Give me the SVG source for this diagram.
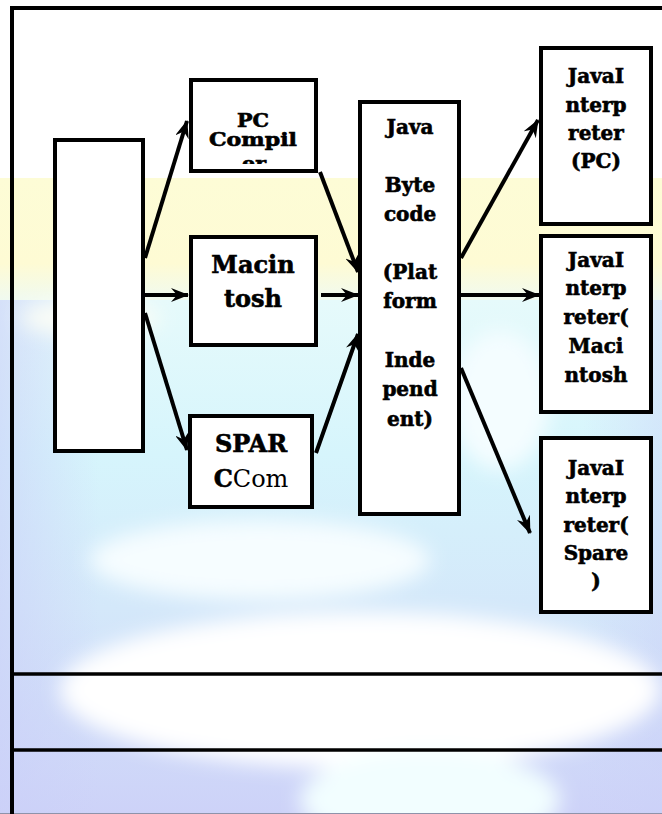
<svg xmlns="http://www.w3.org/2000/svg" width="662" height="814" viewBox="0 0 662 814">
  <style>
    .box { fill: #ffffff; stroke: #000000; stroke-width: 4; }
    .t { font-family: "DejaVu Serif", "Liberation Serif", serif; font-weight: bold; text-anchor: middle; fill: #000000; stroke: #000000; stroke-width: 0.6; }
    .s20 { font-size: 20px; }
    .s24 { font-size: 24px; }
    .s18 { font-size: 18px; }
    .reg { font-weight: normal; stroke: none; }
    .conn line { stroke: #000000; stroke-width: 4; fill: none; marker-end: url(#arr); }
    .frame { stroke: #000000; stroke-width: 4; fill: none; }
  </style>
  <defs>
    <marker id="arr" markerUnits="userSpaceOnUse" viewBox="0 0 18 14" markerWidth="18" markerHeight="14" refX="17" refY="7" orient="auto">
      <path d="M0,0 L18,7 L0,14 L6,7 z" fill="#000000"/>
    </marker>
    <linearGradient id="yel" x1="0" y1="0" x2="0" y2="1">
      <stop offset="0" stop-color="#fdfcd6"/>
      <stop offset="0.7" stop-color="#fefbd4"/>
      <stop offset="1" stop-color="#f0faf0"/>
    </linearGradient>
    <linearGradient id="low" x1="0" y1="0" x2="0" y2="1">
      <stop offset="0" stop-color="#e6fafb"/>
      <stop offset="0.3" stop-color="#d6f5fc"/>
      <stop offset="0.6" stop-color="#d4e8fa"/>
      <stop offset="1" stop-color="#cdd2f8"/>
    </linearGradient>
    <linearGradient id="side" x1="0" y1="0" x2="1" y2="0">
      <stop offset="0" stop-color="#cbd0f8" stop-opacity="0.6"/>
      <stop offset="0.15" stop-color="#cbd0f8" stop-opacity="0"/>
      <stop offset="0.88" stop-color="#cbd0f8" stop-opacity="0"/>
      <stop offset="1" stop-color="#cbd0f8" stop-opacity="0.4"/>
    </linearGradient>
    <filter id="blur" x="-50%" y="-50%" width="200%" height="200%">
      <feGaussianBlur stdDeviation="10"/>
    </filter>
    <clipPath id="pcclip">
      <rect x="193" y="82" width="121" height="82"/>
    </clipPath>
  </defs>

  <!-- background -->
  <g id="background">
    <rect x="0" y="0" width="662" height="814" fill="#ffffff"/>
    <rect x="0" y="178" width="662" height="122" fill="url(#yel)"/>
    <rect x="0" y="300" width="662" height="514" fill="url(#low)"/>
    <rect x="0" y="300" width="662" height="514" fill="url(#side)"/>
    <g filter="url(#blur)" fill="#ffffff">
      <ellipse cx="360" cy="690" rx="300" ry="78"/>
      <ellipse cx="430" cy="800" rx="130" ry="50" fill="#f2feff"/>
      <ellipse cx="260" cy="560" rx="170" ry="40" fill="#f6fdff"/>
      <ellipse cx="90" cy="318" rx="70" ry="18" fill="#fbfdf6"/>
      <ellipse cx="500" cy="400" rx="50" ry="70" fill="#f4fdff"/>
    </g>
    <line x1="0" y1="813.5" x2="662" y2="813.5" stroke="#8e93aa" stroke-width="1"/>
  </g>

  <!-- frame -->
  <g id="frame">
    <path class="frame" d="M12,814 L12,8 L662,8"/>
    <line x1="12" y1="674" x2="662" y2="674" stroke="#000" stroke-width="3.5"/>
    <line x1="12" y1="750" x2="662" y2="750" stroke="#000" stroke-width="3.5"/>
  </g>

  <!-- connectors -->
  <g id="connectors" class="conn">
    <line x1="145" y1="258" x2="187" y2="121"/>
    <line x1="145" y1="295" x2="188" y2="295"/>
    <line x1="145" y1="313" x2="187" y2="450"/>
    <line x1="320" y1="172" x2="358" y2="272"/>
    <line x1="321" y1="295" x2="358" y2="295"/>
    <line x1="316" y1="453" x2="358" y2="334"/>
    <line x1="461" y1="258" x2="538" y2="120"/>
    <line x1="461" y1="295" x2="539" y2="295"/>
    <line x1="461" y1="368" x2="530" y2="533"/>
  </g>

  <!-- nodes -->
  <g id="source">
    <rect class="box" x="55" y="140" width="88" height="311"/>
  </g>

  <g id="pc-compiler">
    <rect class="box" x="191" y="80" width="125" height="91"/>
    <g clip-path="url(#pcclip)">
      <text class="t s18" x="253" y="127" textLength="32" lengthAdjust="spacingAndGlyphs">PC</text>
      <text class="t s18" x="253" y="146" textLength="88" lengthAdjust="spacingAndGlyphs">Compil</text>
      <text class="t s18" x="254" y="170" textLength="24" lengthAdjust="spacingAndGlyphs">er</text>
    </g>
  </g>

  <g id="macintosh">
    <rect class="box" x="191" y="237" width="125" height="108"/>
    <text class="t s24" x="253" y="273">Macin</text>
    <text class="t s24" x="253" y="307">tosh</text>
  </g>

  <g id="sparc-compiler">
    <rect class="box" x="190" y="416" width="122" height="91"/>
    <text class="t s24" x="251" y="452">SPAR</text>
    <text class="t s24" x="251" y="487">C<tspan class="reg">Com</tspan></text>
  </g>

  <g id="java-bytecode">
    <rect class="box" x="360" y="102" width="99" height="412"/>
    <text class="t s20" x="410" y="134">Java</text>
    <text class="t s20" x="410" y="192">Byte</text>
    <text class="t s20" x="410" y="221">code</text>
    <text class="t s20" x="410" y="279">(Plat</text>
    <text class="t s20" x="410" y="308">form</text>
    <text class="t s20" x="410" y="367">Inde</text>
    <text class="t s20" x="410" y="396">pend</text>
    <text class="t s20" x="410" y="426">ent)</text>
  </g>

  <g id="interp-pc">
    <rect class="box" x="541" y="48" width="110" height="176"/>
    <text class="t s20" x="596" y="83">JavaI</text>
    <text class="t s20" x="596" y="112">nterp</text>
    <text class="t s20" x="596" y="140">reter</text>
    <text class="t s20" x="596" y="168">(PC)</text>
  </g>

  <g id="interp-mac">
    <rect class="box" x="541" y="236" width="110" height="176"/>
    <text class="t s20" x="596" y="267">JavaI</text>
    <text class="t s20" x="596" y="295">nterp</text>
    <text class="t s20" x="596" y="324">reter(</text>
    <text class="t s20" x="596" y="353">Maci</text>
    <text class="t s20" x="596" y="382">ntosh</text>
  </g>

  <g id="interp-spare">
    <rect class="box" x="541" y="438" width="110" height="174"/>
    <text class="t s20" x="596" y="475">JavaI</text>
    <text class="t s20" x="596" y="503">nterp</text>
    <text class="t s20" x="596" y="532">reter(</text>
    <text class="t s20" x="596" y="560">Spare</text>
    <text class="t s20" x="596" y="588">)</text>
  </g>
</svg>
